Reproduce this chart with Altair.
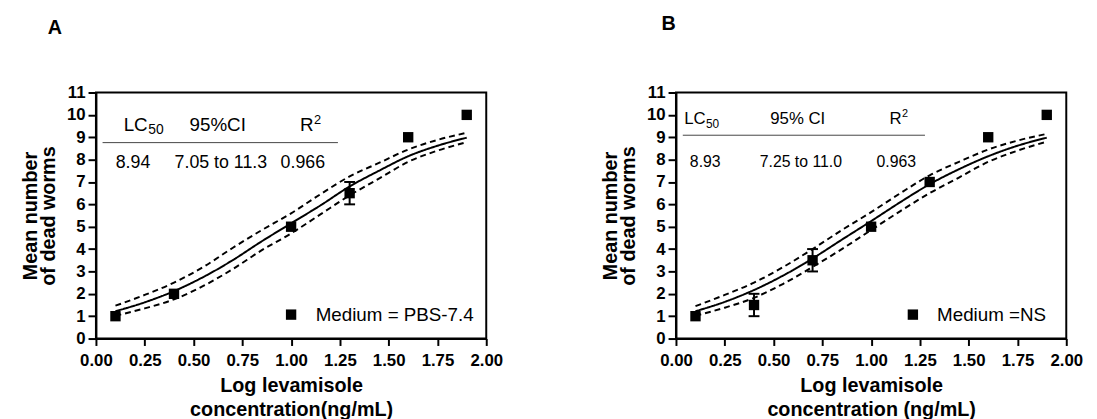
import altair as alt
import pandas as pd

# ---------------- data ----------------
curve_x = [0.1, 0.25, 0.4, 0.55, 0.7, 0.85, 1.0, 1.15, 1.3, 1.45, 1.6, 1.75, 1.9]

a_fit = [1.22, 1.62, 2.12, 2.75, 3.50, 4.35, 5.15, 5.95, 6.80, 7.50, 8.15, 8.62, 8.98]
a_upper = [1.47, 1.95, 2.50, 3.20, 4.05, 4.85, 5.60, 6.45, 7.25, 7.85, 8.45, 8.88, 9.20]
a_lower = [1.02, 1.35, 1.75, 2.35, 3.10, 3.95, 4.70, 5.55, 6.40, 7.15, 7.90, 8.40, 8.78]

b_fit = [1.22, 1.64, 2.17, 2.82, 3.58, 4.42, 5.25, 6.10, 6.90, 7.57, 8.15, 8.62, 8.98]
b_upper = [1.45, 1.95, 2.50, 3.20, 4.00, 4.85, 5.65, 6.50, 7.30, 7.90, 8.45, 8.85, 9.15]
b_lower = [1.02, 1.38, 1.82, 2.45, 3.20, 4.00, 4.85, 5.70, 6.50, 7.20, 7.90, 8.40, 8.80]

a_x = [0.1, 0.4, 1.0, 1.3, 1.6, 1.9]
a_mean = [1, 2, 5, 6.5, 9, 10]
a_sem = [0, 0, 0, 0.5, 0, 0]

b_x = [0.1, 0.4, 0.7, 1.0, 1.3, 1.6, 1.9]
b_mean = [1, 1.5, 3.5, 5, 7, 9, 10]
b_sem = [0, 0.5, 0.5, 0, 0, 0, 0]

x_ticks = [0.0, 0.25, 0.5, 0.75, 1.0, 1.25, 1.5, 1.75, 2.0]
y_ticks = list(range(0, 12))

a_stats = ["8.94", "7.05 to 11.3", "0.966"]
b_stats = ["8.93", "7.25 to 11.0", "0.963"]
a_head_ci = "95%CI"
b_head_ci = "95% CI"
a_legend = "Medium = PBS-7.4"
b_legend = "Medium =NS"
y_title = ["Mean number", "of dead worms"]
a_x_title = ["Log levamisole", "concentration(ng/mL)"]
b_x_title = ["Log levamisole", "concentration (ng/mL)"]

FONT = "Liberation Sans"
W, H = 395, 249
dummy = pd.DataFrame({"_": [0]})

XSCALE = alt.Scale(domain=[0, 2], nice=False, zero=False)
YSCALE = alt.Scale(domain=[0, 11], nice=False, zero=False)


def panel(xs, mean, sem, fit, up, lo, stats, head_ci, legend, letter, p, xaxis_title):
    xa = alt.Axis(values=x_ticks, format=".2f", title=xaxis_title)
    ya = alt.Axis(values=y_ticks, format="d", title=y_title)

    def X(field=None, datum=None):
        if datum is not None:
            return alt.X(datum=datum, type="quantitative", scale=XSCALE, axis=xa)
        return alt.X(field, type="quantitative", scale=XSCALE, axis=xa)

    def Y(field=None, datum=None):
        if datum is not None:
            return alt.Y(datum=datum, type="quantitative", scale=YSCALE, axis=ya)
        return alt.Y(field, type="quantitative", scale=YSCALE, axis=ya)

    def txt(s, x, y, size=18, align="left", weight="normal"):
        return alt.Chart(dummy).mark_text(
            text=s, font=FONT, fontSize=size, align=align, baseline="middle",
            fontWeight=weight, color="black"
        ).encode(x=X(datum=x), y=Y(datum=y))

    curves = []
    for vals, dash in ((fit, [1, 0]), (up, [6, 4]), (lo, [6, 4])):
        df = pd.DataFrame({"x": curve_x, "y": vals})
        curves.append(alt.Chart(df).mark_line(color="black", strokeWidth=2, interpolate="monotone",
                                              strokeDash=dash).encode(x=X("x"), y=Y("y")))
    pts = pd.DataFrame({"x": xs, "m": mean, "e": sem})
    pts["lo"] = pts["m"] - pts["e"]
    pts["hi"] = pts["m"] + pts["e"]
    err = pts[pts["e"] > 0]
    rules = alt.Chart(err).mark_rule(color="black", strokeWidth=2).encode(
        x=X("x"), y=Y("lo"), y2="hi")
    caps_lo = alt.Chart(err).mark_tick(orient="horizontal", size=11, thickness=2,
                                       color="black", opacity=1).encode(x=X("x"), y=Y("lo"))
    caps_hi = alt.Chart(err).mark_tick(orient="horizontal", size=11, thickness=2,
                                       color="black", opacity=1).encode(x=X("x"), y=Y("hi"))
    squares = alt.Chart(pts).mark_square(size=110, color="black", opacity=1, filled=True).encode(
        x=X("x"), y=Y("m"))

    ann = [
        txt("LC", p["lc"], p["head_y"], size=p["fs"]),
        txt("50", p["lc_sub"], p["sub_y"], size=p["fs"] - 5),
        txt(head_ci, p["ci"], p["head_y"], size=p["fs"], align="center"),
        txt("R", p["r"], p["head_y"], size=p["fs"]),
        txt("2", p["r_sup"], p["sup_y"], size=p["fs"] - 6),
        txt(stats[0], p["v1"], p["val_y"], size=p["fs"] - 1, align="center"),
        txt(stats[1], p["v2"], p["val_y"], size=p["fs"] - 1, align="center"),
        txt(stats[2], p["v3"], p["val_y"], size=p["fs"] - 1, align="center"),
        alt.Chart(dummy).mark_rule(color="#444444", strokeWidth=1).encode(
            x=X(datum=p["line_x0"]), x2=alt.X2(datum=p["line_x1"]), y=Y(datum=p["line_y"])),
        alt.Chart(dummy).mark_square(size=110, color="black", opacity=1, filled=True).encode(
            x=X(datum=p["leg_sq"]), y=Y(datum=p["leg_y"])),
        txt(legend, p["leg_txt"], p["leg_y"], size=19),
        txt(letter, p["let_x"], p["let_y"], size=20, align="center", weight="bold"),
    ]
    return alt.layer(*curves, rules, caps_lo, caps_hi, squares, *ann).properties(width=W, height=H)


pos_a = dict(fs=19, lc=0.142, lc_sub=0.268, head_y=9.53, sub_y=9.3, ci=0.624, r=1.045, r_sup=1.117,
             sup_y=9.78, v1=0.19, v2=0.64, v3=1.06, val_y=7.86, line_x0=0.034, line_x1=1.24,
             line_y=8.76, leg_sq=1.0, leg_txt=1.126, leg_y=1.07, let_x=-0.21, let_y=13.86)
pos_b = dict(fs=17, lc=0.042, lc_sub=0.154, head_y=9.82, sub_y=9.6, ci=0.624, r=1.094, r_sup=1.158,
             sup_y=10.05, v1=0.15, v2=0.64, v3=1.129, val_y=7.91, line_x0=0.035, line_x1=1.276,
             line_y=9.09, leg_sq=1.214, leg_txt=1.338, leg_y=1.07, let_x=-0.037, let_y=14.08)

chart_a = panel(a_x, a_mean, a_sem, a_fit, a_upper, a_lower, a_stats, a_head_ci, a_legend, "A", pos_a,
                a_x_title)
chart_b = panel(b_x, b_mean, b_sem, b_fit, b_upper, b_lower, b_stats, b_head_ci, b_legend, "B", pos_b,
                b_x_title)

chart = alt.hconcat(chart_a, chart_b, spacing=192, bounds="flush").properties(
    padding={"left": 12, "top": 2, "right": 5, "bottom": 5},
    background="white",
).configure_view(
    stroke="black", strokeWidth=2
).configure_axis(
    grid=False, domainColor="black", domainWidth=2, tickColor="black", tickWidth=2, tickSize=8,
    labelFont=FONT, labelFontSize=17, labelFontWeight="bold", labelColor="black",
    labelFlush=False, labelOverlap=False, labelPadding=3,
    titleFont=FONT, titleFontSize=20, titleFontWeight="bold", titleColor="black",
).configure_axisX(titlePadding=8, titleLineHeight=24, labelPadding=7, tickSize=7
).configure_axisY(titlePadding=8, titleLineHeight=18)

chart.save("out.html", embed_options={"renderer": "svg", "actions": False})
